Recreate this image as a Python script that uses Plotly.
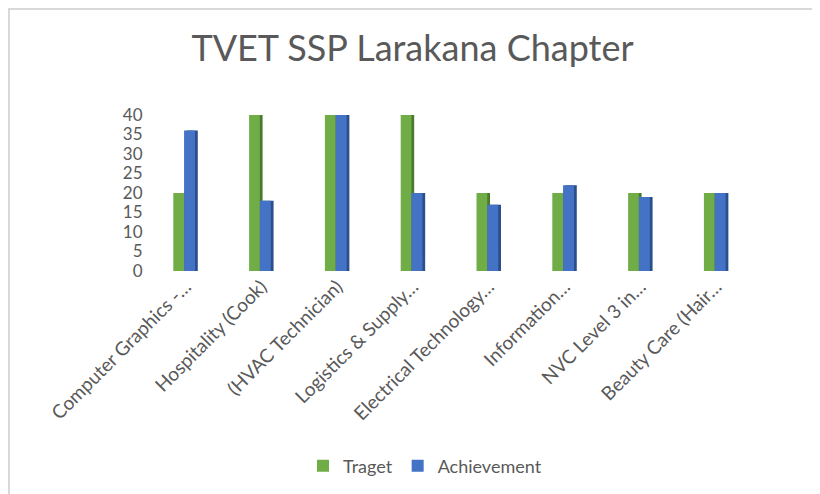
import plotly.graph_objects as go

categories = ["Computer Graphics -…", "Hospitality (Cook)", "(HVAC Technician)",
              "Logistics & Supply…", "Electrical Technology…", "Information…",
              "NVC Level 3 in…", "Beauty Care (Hair…"]
target = [20, 40, 40, 40, 20, 20, 20, 20]
achievement = [36, 18, 40, 20, 17, 22, 19, 20]
y_ticks = [0, 5, 10, 15, 20, 25, 30, 35, 40]

W, H = 820, 494
OX, OY = 8, 8  # page offset of the figure inside the browser window


def px(x):
    return (x - OX) / W


def py(y):
    return 1 - (y - OY) / H


GREEN, GREEN_SIDE = "#70AD47", "#4A7A2E"
BLUE, BLUE_SIDE = "#4472C4", "#2B4E8C"
TEXT = "#595959"
FONT = "Lato"

side = 0.036
g_off, g_w = -0.161, 0.142
b_off, b_w = -0.019, 0.145

fig = go.Figure()
fig.add_trace(go.Bar(x=categories, y=target, offset=g_off + side, width=g_w,
                     marker=dict(color=GREEN_SIDE, line=dict(width=0)),
                     showlegend=False, hoverinfo="skip"))
fig.add_trace(go.Bar(x=categories, y=target, offset=g_off, width=g_w, name="Traget",
                     marker=dict(color=GREEN, line=dict(width=0))))
fig.add_trace(go.Bar(x=categories, y=achievement, offset=b_off + side, width=b_w,
                     marker=dict(color=BLUE_SIDE, line=dict(width=0)),
                     showlegend=False, hoverinfo="skip"))
fig.add_trace(go.Bar(x=categories, y=achievement, offset=b_off, width=b_w, name="Achievement",
                     marker=dict(color=BLUE, line=dict(width=0))))

fig.update_layout(
    width=W, height=H,
    margin=dict(l=0, r=0, t=0, b=0),
    paper_bgcolor="white", plot_bgcolor="white",
    barmode="overlay",
    font=dict(family=FONT, color=TEXT),
    title=dict(text="TVET SSP Larakana Chapter", x=px(412.5), y=py(48),
               xanchor="center", yanchor="middle",
               font=dict(family=FONT, size=36, color=TEXT)),
    xaxis=dict(domain=[px(147.6), px(754)], tickangle=-45, showgrid=False,
               showline=False, ticks="", automargin=False,
               tickfont=dict(family=FONT, size=19, color=TEXT)),
    yaxis=dict(domain=[py(271), py(115)], range=[0, 40],
               tickvals=y_ticks, showgrid=False, showline=False, zeroline=False,
               ticks="", automargin=False, ticklabelstandoff=4,
               tickfont=dict(family=FONT, size=17, color=TEXT)),
    legend=dict(orientation="h", x=px(425), y=py(466), xanchor="center",
                yanchor="middle", font=dict(family=FONT, size=18, color=TEXT),
                itemwidth=30, traceorder="normal"),
    shapes=[
        dict(type="line", xref="paper", yref="paper", x0=0, x1=1,
             y0=1 - 1 / H, y1=1 - 1 / H, line=dict(color="#D9D9D9", width=2)),
        dict(type="line", xref="paper", yref="paper", x0=1 / W, x1=1 / W,
             y0=0, y1=1, line=dict(color="#D9D9D9", width=2)),
    ],
)

fig.write_html("out.html")
